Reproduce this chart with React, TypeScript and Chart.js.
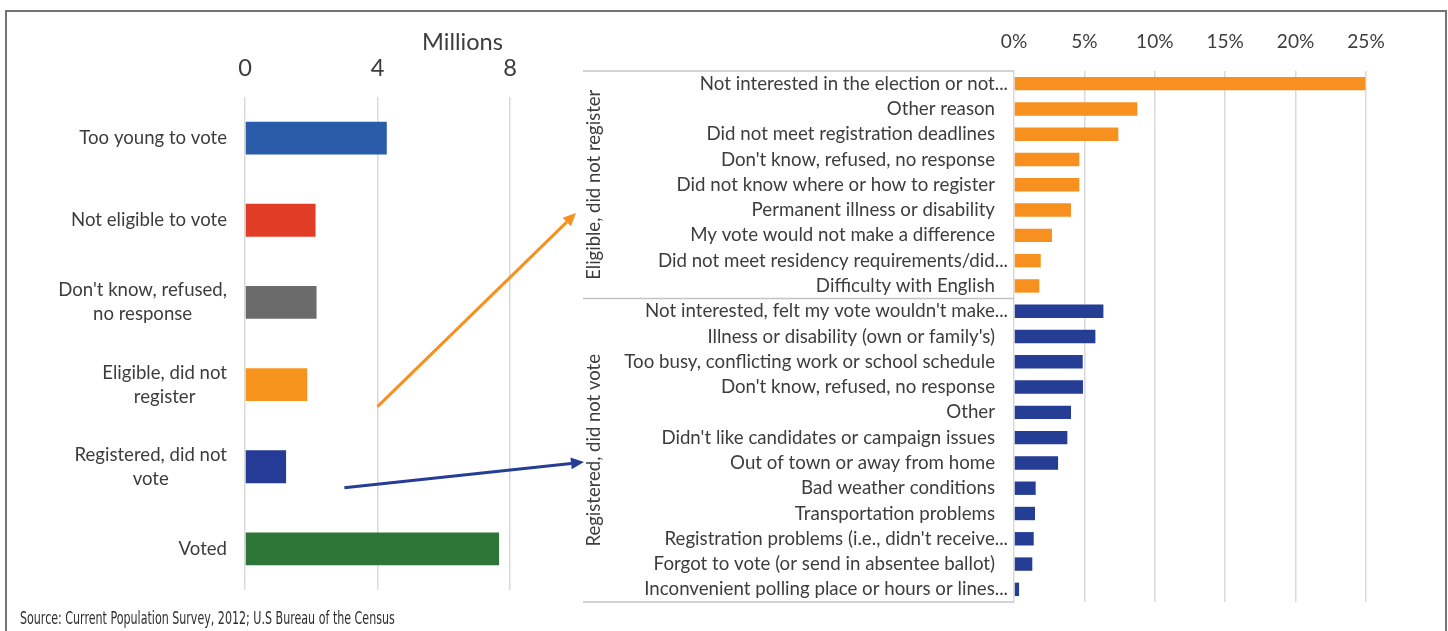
import { useEffect, useRef } from "react";
import { Chart, registerables } from "chart.js";

Chart.register(...registerables);

// ---------- data ----------
const leftCategories: string[][] = [
  ["Too young to vote"],
  ["Not eligible to vote"],
  ["Don't know, refused,", "no response"],
  ["Eligible, did not", "register"],
  ["Registered, did not", "vote"],
  ["Voted"],
];
const leftValues = [4.28, 2.13, 2.16, 1.88, 1.24, 7.67];
const leftColors = ["#2a5caa", "#e03c26", "#6b6b6b", "#f7941d", "#263b96", "#2e7538"];
const leftTickValues = [0, 4, 8];
const leftAxisTitle = "Millions";

const eligibleReasons = [
  "Not interested in the election or not...",
  "Other reason",
  "Did not meet registration deadlines",
  "Don't know, refused, no response",
  "Did not know where or how to register",
  "Permanent illness or disability",
  "My vote would not make a difference",
  "Did not meet residency requirements/did...",
  "Difficulty with English",
];
const eligibleValues = [24.95, 8.76, 7.41, 4.64, 4.64, 4.05, 2.7, 1.9, 1.8];

const registeredReasons = [
  "Not interested, felt my vote wouldn't make...",
  "Illness or disability (own or family's)",
  "Too busy, conflicting work or school schedule",
  "Don't know, refused, no response",
  "Other",
  "Didn't like candidates or campaign issues",
  "Out of town or away from home",
  "Bad weather conditions",
  "Transportation problems",
  "Registration problems (i.e., didn't receive...",
  "Forgot to vote (or send in absentee ballot)",
  "Inconvenient polling place or hours or lines...",
];
const registeredValues = [6.35, 5.78, 4.88, 4.9, 4.05, 3.79, 3.13, 1.54, 1.49, 1.4, 1.3, 0.36];

const groupNames = ["Eligible, did not register", "Registered, did not vote"];
const rightTickValues = [0, 5, 10, 15, 20, 25];
const sourceText = "Source: Current Population Survey, 2012; U.S Bureau of the Census";

// ---------- styles ----------
const FAMILY = 'Lato, "Noto Sans", sans-serif';
const TEXT = "#3d3d3d";
const GRID = "#d9d9d9";
const ORANGE = "#f7901e";
const NAVY = "#253d94";
const W = 1448;
const H = 631;

function fitSize(text: string, target: number, family = FAMILY): number {
  const c = document.createElement("canvas").getContext("2d")!;
  c.font = `100px ${family}`;
  const w = c.measureText(text).width;
  return Math.round((1000 * target) / w) / 10;
}

function drawArrow(ctx: CanvasRenderingContext2D, x1: number, y1: number, x2: number, y2: number, color: string) {
  const ang = Math.atan2(y2 - y1, x2 - x1);
  const head = 13;
  const hw = 6;
  const bx = x2 - head * Math.cos(ang);
  const by = y2 - head * Math.sin(ang);
  ctx.strokeStyle = color;
  ctx.lineWidth = 3;
  ctx.beginPath();
  ctx.moveTo(x1, y1);
  ctx.lineTo(bx, by);
  ctx.stroke();
  ctx.fillStyle = color;
  ctx.beginPath();
  ctx.moveTo(x2, y2);
  ctx.lineTo(bx + hw * Math.sin(ang), by - hw * Math.cos(ang));
  ctx.lineTo(bx - hw * Math.sin(ang), by + hw * Math.cos(ang));
  ctx.closePath();
  ctx.fill();
}

export default function App() {
  const leftRef = useRef<HTMLCanvasElement>(null);
  const rightRef = useRef<HTMLCanvasElement>(null);
  const srcRef = useRef<HTMLDivElement>(null);

  useEffect(() => {
    const leftLabelSize = fitSize("Too young to vote", 148);
    const titleSize = fitSize(leftAxisTitle, 81);
    const rightLabelSize = fitSize("Did not meet registration deadlines", 289);
    const rightTickSize = fitSize("25%", 37.5);
    const groupSize = fitSize(groupNames[0], 190);

    const leftPlugin = {
      id: "leftDecor",
      afterDraw(chart: any) {
        const { ctx, chartArea } = chart;
        const xs = chart.scales.x;
        const ys = chart.scales.y;
        ctx.save();
        ctx.fillStyle = TEXT;
        ctx.font = `${leftLabelSize}px ${FAMILY}`;
        ctx.textAlign = "center";
        ctx.textBaseline = "middle";
        const lh = 24;
        leftCategories.forEach((lines, i) => {
          const cy = ys.getPixelForValue(i);
          const bw = Math.max(...lines.map((l) => ctx.measureText(l).width));
          const cx = chartArea.left - 18 - bw / 2;
          lines.forEach((l, j) => ctx.fillText(l, cx, cy + (j - (lines.length - 1) / 2) * lh));
        });
        ctx.font = `${titleSize}px ${FAMILY}`;
        ctx.textAlign = "right";
        ctx.fillText(leftAxisTitle, chartArea.right - 7, 42);
        drawArrow(ctx, xs.getPixelForValue(4), ys.getPixelForValue(3) + 22, 576, 213, ORANGE);
        drawArrow(ctx, xs.getPixelForValue(3), ys.getPixelForValue(4) + 21, 584, 462, NAVY);
        ctx.restore();
      },
    };

    const left = new Chart(leftRef.current!, {
      type: "bar",
      data: {
        labels: leftCategories.map((l) => l.join(" ")),
        datasets: [
          {
            data: leftValues,
            backgroundColor: leftColors,
            barPercentage: 0.4,
            categoryPercentage: 1,
          },
        ],
      },
      options: {
        indexAxis: "y",
        responsive: false,
        animation: false,
        devicePixelRatio: 1,
        layout: { padding: { left: 245, top: 21, right: W - 510, bottom: H - 590 } },
        plugins: { legend: { display: false }, tooltip: { enabled: false } },
        scales: {
          x: {
            position: "top",
            min: 0,
            max: 8,
            afterBuildTicks: (s: any) => {
              s.ticks = leftTickValues.map((v) => ({ value: v }));
            },
            afterFit: (s: any) => {
              s.height = 76;
            },
            ticks: {
              color: TEXT,
              font: { family: FAMILY, size: titleSize },
              padding: 29 - titleSize * 0.6,
              maxRotation: 0,
            },
            grid: { color: GRID, lineWidth: 1.5, drawTicks: false },
            border: { display: false },
          },
          y: { display: false },
        },
      },
      plugins: [leftPlugin],
    } as any);

    const rightLabels = [...eligibleReasons, ...registeredReasons];
    const rightValues = [...eligibleValues, ...registeredValues];
    const rightColors = [...eligibleReasons.map(() => ORANGE), ...registeredReasons.map(() => NAVY)];

    const rightPlugin = {
      id: "rightDecor",
      afterDraw(chart: any) {
        const { ctx, chartArea } = chart;
        const ys = chart.scales.y;
        ctx.save();
        ctx.fillStyle = TEXT;
        ctx.font = `${rightLabelSize}px ${FAMILY}`;
        ctx.textAlign = "right";
        ctx.textBaseline = "middle";
        rightLabels.forEach((l, i) => {
          const yy = ys.getPixelForValue(i);
          const trunc = l.endsWith("...");
          ctx.fillText(l, chartArea.left - (trunc ? 6 : 19), yy);
        });
        const n1 = eligibleReasons.length;
        const top = chartArea.top;
        const bottom = chartArea.bottom;
        const mid = (ys.getPixelForValue(n1 - 1) + ys.getPixelForValue(n1)) / 2;
        ctx.strokeStyle = "#c4c4c4";
        ctx.lineWidth = 1.5;
        [top, mid, bottom].forEach((yy) => {
          ctx.beginPath();
          ctx.moveTo(583, yy);
          ctx.lineTo(chartArea.left, yy);
          ctx.stroke();
        });
        ctx.font = `${groupSize}px ${FAMILY}`;
        ctx.textAlign = "center";
        const spans: [number, number][] = [
          [top, mid],
          [mid, bottom],
        ];
        spans.forEach(([a, b], k) => {
          ctx.save();
          ctx.translate(594, (a + b) / 2);
          ctx.rotate(-Math.PI / 2);
          ctx.fillText(groupNames[k], 0, 0);
          ctx.restore();
        });
        ctx.restore();
      },
    };

    const right = new Chart(rightRef.current!, {
      type: "bar",
      data: {
        labels: rightLabels,
        datasets: [
          {
            data: rightValues,
            backgroundColor: rightColors,
            barPercentage: 0.53,
            categoryPercentage: 1,
          },
        ],
      },
      options: {
        indexAxis: "y",
        responsive: false,
        animation: false,
        devicePixelRatio: 1,
        layout: { padding: { left: 1014, top: 20, right: W - 1366, bottom: H - 602 } },
        plugins: { legend: { display: false }, tooltip: { enabled: false } },
        scales: {
          x: {
            position: "top",
            min: 0,
            max: 25,
            afterBuildTicks: (s: any) => {
              s.ticks = rightTickValues.map((v) => ({ value: v }));
            },
            afterFit: (s: any) => {
              s.height = 51;
            },
            ticks: {
              color: TEXT,
              font: { family: FAMILY, size: rightTickSize },
              padding: 29 - rightTickSize * 0.6,
              maxRotation: 0,
              callback: (v: any) => `${v}%`,
            },
            grid: { color: GRID, lineWidth: 1.5, drawTicks: false },
            border: { display: false },
          },
          y: { display: false },
        },
      },
      plugins: [rightPlugin],
    } as any);

    const el = srcRef.current;
    if (el) {
      el.style.transform = "none";
      const w = el.offsetWidth;
      if (w > 0) el.style.transform = `scaleX(${375 / w})`;
    }

    return () => {
      left.destroy();
      right.destroy();
    };
  }, []);

  return (
    <div
      style={{
        position: "fixed",
        left: 0,
        top: 0,
        width: W,
        height: H,
        overflow: "hidden",
        background: "#ffffff",
      }}
    >
      <div
        style={{
          position: "absolute",
          left: 5,
          top: 10,
          width: 1442,
          height: 700,
          border: "2px solid #737373",
          boxSizing: "border-box",
        }}
      />
      <canvas ref={leftRef} width={W} height={H} style={{ position: "absolute", left: 0, top: 0 }} />
      <canvas ref={rightRef} width={W} height={H} style={{ position: "absolute", left: 0, top: 0 }} />
      <div
        ref={srcRef}
        style={{
          position: "absolute",
          left: 20,
          top: 608,
          display: "inline-block",
          whiteSpace: "nowrap",
          transformOrigin: "0 0",
          fontFamily: '"Liberation Sans Narrow", "DejaVu Sans Condensed", "Noto Sans", sans-serif',
          fontSize: 17,
          lineHeight: "21px",
          color: "#2e2e2e",
        }}
      >
        {sourceText}
      </div>
    </div>
  );
}
